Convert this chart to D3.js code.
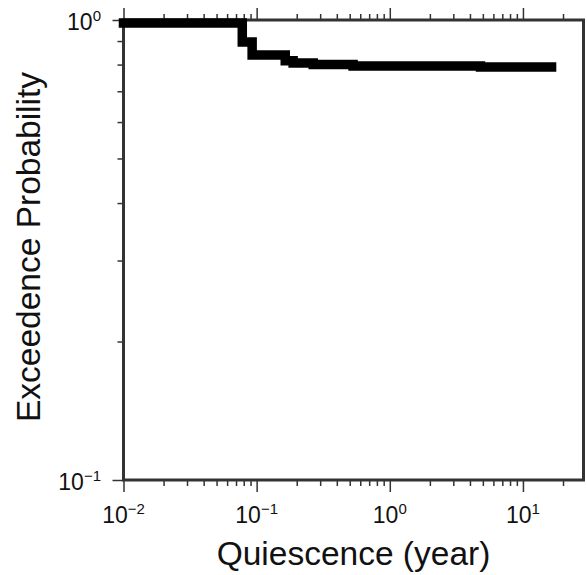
<!DOCTYPE html>
<html lang="en">
<head>
    <meta charset="UTF-8">
    <title>Exceedence Probability</title>
    <script src="https://d3js.org/d3.v7.min.js"></script>
    <style>
        body { margin: 0; background: #fff; }
        text { font-family: "Liberation Sans", Arial, sans-serif; fill: #111; }
    </style>
</head>
<body>
<svg width="587" height="575"></svg>

<script>
    // step data
    const quiescence  = [0.01, 0.078, 0.0925, 0.164, 0.188, 0.266, 0.53, 4.8, 16.4];
    const probability = [0.985, 0.896, 0.839, 0.815, 0.806, 0.800, 0.794, 0.790, 0.790];

    // tick labels (powers of ten)
    const xMajor = [0.01, 0.1, 1, 10];
    const xExp   = ["\u22122", "\u22121", "0", "1"];
    const yMajor = [0.1, 1];
    const yExp   = ["\u22121", "0"];

    const svg = d3.select("svg");
    const plotL = 123.5, plotR = 583.5, plotT = 20, plotB = 480;

    const x = d3.scaleLog().domain([0.01, 28.5]).range([plotL, plotR]);
    const y = d3.scaleLog().domain([0.1, 1]).range([plotB, plotT]);

    const xMinor = x.ticks().filter(d => !xMajor.some(m => Math.abs(m - d) / m < 1e-6));
    const yMinor = y.ticks().filter(d => !yMajor.some(m => Math.abs(m - d) / m < 1e-6));

    function tickAxis(axis, scale, values, size, tx, ty) {
        const g = svg.append("g")
            .attr("transform", `translate(${tx},${ty})`)
            .call(axis(scale).tickValues(values).tickSize(size).tickFormat(""));
        g.select(".domain").remove();
        g.selectAll("line").attr("stroke", "#333").attr("stroke-width", 1.5);
    }

    // bottom + top
    tickAxis(d3.axisBottom, x, xMinor, 6, 0, plotB);
    tickAxis(d3.axisBottom, x, xMajor, 12, 0, plotB);
    tickAxis(d3.axisTop, x, xMinor, 6, 0, plotT);
    tickAxis(d3.axisTop, x, xMajor, 12, 0, plotT);
    // left
    tickAxis(d3.axisLeft, y, yMinor, 6, plotL, 0);
    tickAxis(d3.axisLeft, y, yMajor, 11, plotL, 0);

    // frame
    svg.append("rect")
        .attr("x", plotL).attr("y", plotT)
        .attr("width", plotR - plotL).attr("height", plotB - plotT)
        .attr("fill", "none").attr("stroke", "#333").attr("stroke-width", 3);

    // step curve
    const pts = quiescence.map((q, i) => [q, probability[i]]);
    svg.append("path")
        .datum(pts)
        .attr("d", d3.line().x(d => x(d[0])).y(d => y(d[1])).curve(d3.curveStepAfter))
        .attr("fill", "none")
        .attr("stroke", "#000")
        .attr("stroke-width", 9.5)
        .attr("stroke-linecap", "square")
        .attr("stroke-linejoin", "miter");

    // x tick labels
    xMajor.forEach((v, i) => {
        const t = svg.append("text")
            .attr("x", x(v)).attr("y", 523)
            .attr("text-anchor", "middle")
            .attr("font-size", 23);
        t.append("tspan").text("10");
        t.append("tspan").attr("dy", -9).attr("font-size", 15).text(xExp[i]);
    });

    // y tick labels
    yMajor.forEach((v, i) => {
        const t = svg.append("text")
            .attr("x", 101).attr("y", y(v) + 10)
            .attr("text-anchor", "end")
            .attr("font-size", 23);
        t.append("tspan").text("10");
        t.append("tspan").attr("dy", -9).attr("font-size", 15).text(yExp[i]);
    });

    // axis titles
    svg.append("text")
        .attr("x", (plotL + plotR) / 2).attr("y", 565)
        .attr("text-anchor", "middle")
        .attr("font-size", 33.5)
        .text("Quiescence (year)");

    svg.append("text")
        .attr("transform", `translate(40,${(plotT + plotB) / 2 - 3}) rotate(-90)`)
        .attr("text-anchor", "middle")
        .attr("font-size", 33.5)
        .text("Exceedence Probability");
</script>
</body>
</html>
